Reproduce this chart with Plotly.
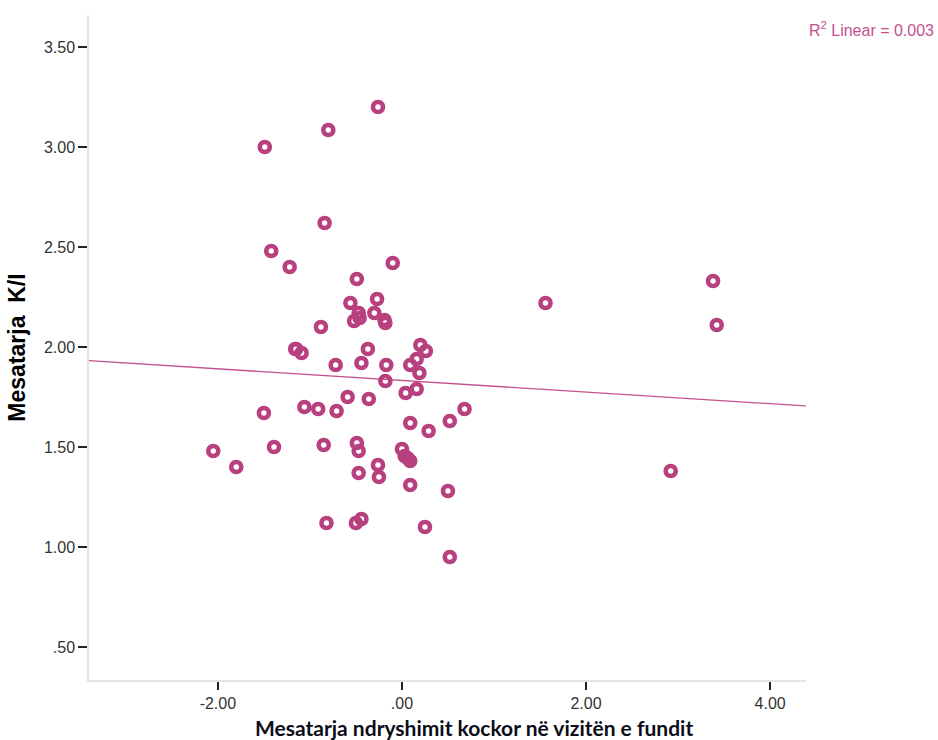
import numpy as np
import plotly.graph_objects as go

# Mean bone change at the last visit (x) vs. mean K/I (y), one point per patient
x_change = [
    -0.26, -1.49, -0.80, -0.84, -1.42, -1.22, -0.49, -0.10, 1.56, 3.38,
    3.42, -0.56, -0.27, -0.47, -0.30, -0.52, -0.46, -0.19, -0.18, -0.88,
    -1.16, -1.15, -1.09, -0.37, 0.20, 0.26, 0.16, 0.09, -0.72, -0.44,
    -0.17, 0.19, -0.18, 0.16, 0.04, -0.59, -0.36, -1.50, -1.06, -0.91,
    -0.71, 0.68, 0.52, 0.09, 0.29, -2.05, -1.80, -1.39, -0.85, -0.49,
    -0.47, 0.00, 0.03, 0.06, 0.09, -0.26, -0.47, -0.25, 0.09, 0.50,
    2.92, -0.82, -0.50, -0.44, 0.25, 0.52,
]
y_mean = [
    3.20, 3.00, 3.085, 2.62, 2.48, 2.40, 2.34, 2.42, 2.22, 2.33,
    2.11, 2.22, 2.24, 2.17, 2.17, 2.13, 2.145, 2.135, 2.12, 2.10,
    1.99, 1.99, 1.97, 1.99, 2.01, 1.98, 1.94, 1.91, 1.91, 1.92,
    1.91, 1.87, 1.83, 1.79, 1.77, 1.75, 1.74, 1.67, 1.70, 1.69,
    1.68, 1.69, 1.63, 1.62, 1.58, 1.48, 1.40, 1.50, 1.51, 1.52,
    1.48, 1.49, 1.455, 1.445, 1.43, 1.41, 1.37, 1.35, 1.31, 1.28,
    1.38, 1.12, 1.12, 1.14, 1.10, 0.95,
]

x_ticks = [-2, 0, 2, 4]
x_tick_text = ["-2.00", ".00", "2.00", "4.00"]
y_ticks = [0.5, 1.0, 1.5, 2.0, 2.5, 3.0, 3.5]
y_tick_text = [".50", "1.00", "1.50", "2.00", "2.50", "3.00", "3.50"]

x_range = [-3.40, 4.39]
y_range = [0.335, 3.66]

point_color = "#b9407f"
fit_color = "#c4518d"

# Least-squares fit line drawn across the whole x axis
slope, intercept = np.polyfit(x_change, y_mean, 1)
fit_x = np.array(x_range)
fit_y = slope * fit_x + intercept

fig = go.Figure()
fig.add_trace(go.Scatter(
    x=fit_x, y=fit_y, mode="lines",
    line=dict(color=fit_color, width=1.3),
    hoverinfo="skip", showlegend=False,
))
fig.add_trace(go.Scatter(
    x=x_change, y=y_mean, mode="markers",
    marker=dict(symbol="circle-open", size=10, color=point_color,
                line=dict(color=point_color, width=4.6)),
    showlegend=False,
))

tick_font = dict(family="Liberation Sans, Arial, sans-serif", size=16, color="#333333")

fig.update_xaxes(
    range=x_range, tickvals=x_ticks, ticktext=x_tick_text,
    showgrid=False, zeroline=False,
    showline=True, linecolor="#e4e4e4", linewidth=1.5,
    ticks="outside", ticklen=8, tickwidth=2, tickcolor="#222222",
    tickfont=tick_font,
)
fig.update_yaxes(
    range=y_range, tickvals=y_ticks, ticktext=y_tick_text,
    showgrid=False, zeroline=False,
    showline=True, linecolor="#e4e4e4", linewidth=1.5,
    ticks="outside", ticklen=9, tickwidth=2, tickcolor="#222222",
    tickfont=tick_font,
    title=dict(text="<b>Mesatarja\u00a0 K/I</b>",
               font=dict(family="Liberation Sans, Arial, sans-serif",
                         size=23, color="#000000"),
               standoff=12),
)

fig.add_annotation(
    text="<b>Mesatarja ndryshimit kockor në vizitën e fundit</b>",
    xref="paper", yref="paper", x=0.5365, y=-0.0707,
    xanchor="center", yanchor="middle", showarrow=False,
    font=dict(family="Lato, Open Sans, sans-serif", size=21, color="#0d0d1a"),
)
fig.add_annotation(
    text="R<sup>2</sup> Linear = 0.003",
    xref="paper", yref="paper", x=1.182, y=0.979,
    xanchor="right", yanchor="middle", showarrow=False,
    font=dict(family="Liberation Sans, Arial, sans-serif", size=16, color=fit_color),
)

fig.update_layout(
    width=938, height=740,
    margin=dict(l=89, r=132, t=15, b=60),
    paper_bgcolor="white", plot_bgcolor="white",
    font=dict(family="Liberation Sans, Arial, sans-serif"),
)

fig.write_html("out.html")
